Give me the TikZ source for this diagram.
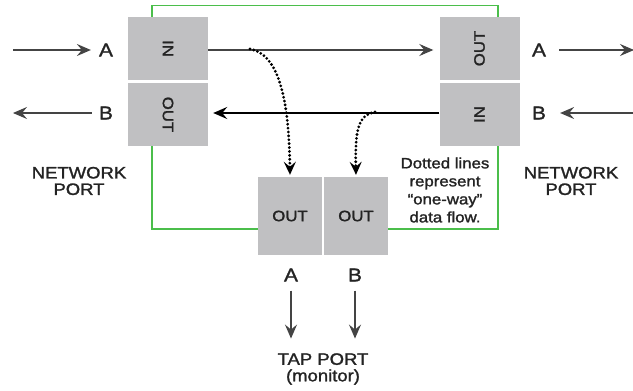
\documentclass[tikz,border=0pt]{standalone}
\usepackage{fontspec}
\setmainfont[FakeStretch=1.12,FakeBold=1.5]{Liberation Sans}
\usetikzlibrary{arrows.meta,calc}
\definecolor{boxgray}{RGB}{192,192,194}
\definecolor{wire}{RGB}{75,190,75}
\definecolor{ink}{RGB}{35,35,35}
\tikzset{
  portbox/.style={fill=boxgray,draw=none,minimum width=80pt,minimum height=63pt,inner sep=0pt,
    text=ink,font=\fontsize{15}{15}\selectfont},
  tapbox/.style={fill=boxgray,draw=none,minimum width=64pt,minimum height=78pt,inner sep=0pt,
    text=ink,font=\fontsize{15}{15}\selectfont},
  lbl/.style={text=ink,inner sep=0pt,font=\fontsize{18.5}{18}\selectfont},
  caption/.style={text=ink,inner sep=0pt,align=center,font=\fontsize{16.5}{16.5}\selectfont},
  note/.style={text=ink,inner sep=0pt,align=center,font=\fontsize{15}{18}\selectfont},
  tip/.style={-{Stealth[length=14pt,width=12pt,inset=5pt]}},
  flow/.style={draw=ink!85,line width=1.1pt,tip},
  flowbold/.style={draw=black,line width=1.8pt,-{Stealth[length=14pt,width=12pt,inset=5pt]}},
  oneway/.style={draw=black,line width=3.1pt,dash pattern=on 0pt off 3.9pt,line cap=round,
    -{Stealth[length=13pt,width=12pt,inset=5pt]}},
  greenline/.style={draw=wire,line width=1.1pt}
}
\begin{document}
\begin{tikzpicture}[x=1pt,y=-1pt]
\useasboundingbox (0,0) rectangle (633,391);
\fill[white] (0,0) rectangle (633,391);

% network port boxes
\node[portbox] (lin)  at (168,48.5)   {\rotatebox{-90}{IN}};
\node[portbox] (lout) at (168,114.5)  {\rotatebox{-90}{OUT}};
\node[portbox] (rout) at (479.5,48.5) {\rotatebox{90}{OUT}};
\node[portbox] (rin)  at (479.5,114.5){\rotatebox{90}{IN}};

% tap port boxes
\node[tapbox] (ta) at (290,216) {OUT};
\node[tapbox] (tb) at (356,216) {OUT};

% housing outline
\draw[greenline] ([xshift=-16pt]lin.north) |- ([xshift=18.5pt,yshift=11pt]rout.north)
  -- ([xshift=18.5pt]rout.north);
\draw[greenline] ([xshift=-16pt]lout.south) |- ([yshift=-13pt]ta.west);
\draw[greenline] ([yshift=-13pt]tb.east) -| ([xshift=18.5pt]rin.south);

% port labels
\node[lbl] (la) at (106,50)  {A};
\node[lbl] (lb) at (106,113) {B};
\node[lbl] (ra) at (539,50)  {A};
\node[lbl] (rb) at (539,113) {B};
\node[lbl] (tla) at (291,275) {A};
\node[lbl] (tlb) at (355,275) {B};

% outside traffic
\coordinate (la0) at (13,50);
\coordinate (lb0) at (13,113);
\coordinate (ra0) at (634,50);
\coordinate (rb0) at (633,113);
\draw[flow] (la0) -- ([xshift=-8pt]la.west);
\draw[flow] ([xshift=-7pt]lb.west) -- (lb0);
\draw[flow] ([xshift=13pt]ra.east) -- (ra0);
\draw[flow] (rb0) -- ([xshift=14pt]rb.east);

% through traffic
\draw[flow] (lin.east |- 0,50) -- ([xshift=-6pt]rout.west |- 0,50);
\draw[flowbold] (rin.west |- 0,113) -- ([xshift=5pt]lout.east |- 0,113);

% copies to the tap
\coordinate (sa) at (250,49);
\coordinate (sb) at (375,112);
\draw[oneway] (sa) .. controls (279,54) and (289,100) .. ([yshift=2pt]ta.north);
\draw[oneway] (sb) .. controls (358,115) and (355,130) .. ([yshift=2pt]tb.north);

% tap outputs
\draw[flow] ([yshift=-9pt]tla.south) -- ++(0,48);
\draw[flow] ([yshift=-9pt]tlb.south) -- ++(0,48);

% captions
\node[caption] (netl) at (79,181) {NETWORK\\PORT};
\node[caption] (netr) at (571,181) {NETWORK\\PORT};
\node[caption] (tap) at (323,369) {TAP PORT\\(monitor)};
\node[note] (dots) at (445,190) {Dotted lines\\represent\\``one-way''\\data flow.};
\end{tikzpicture}
\end{document}
